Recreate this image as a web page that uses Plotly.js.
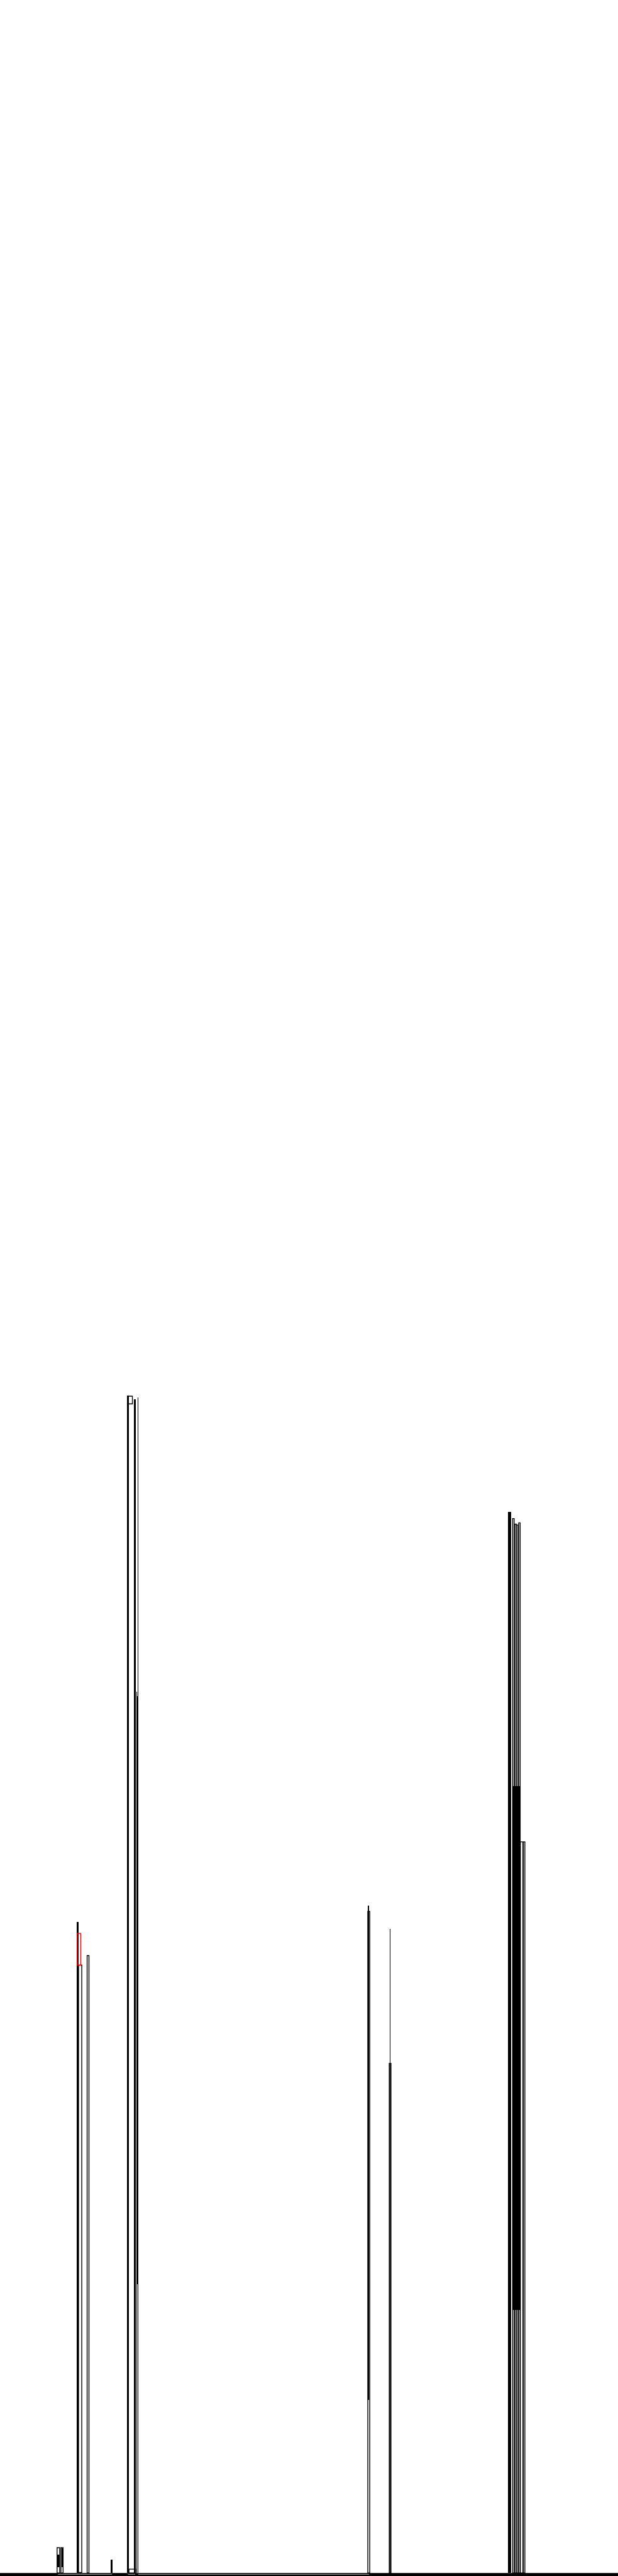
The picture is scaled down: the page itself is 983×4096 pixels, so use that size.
<!DOCTYPE html>
<html>
<head>
<meta charset="utf-8">
<script src="https://cdn.plot.ly/plotly-3.0.1.min.js"></script>
<style>html,body{margin:0;padding:0;background:#fff;}#chart{width:983px;height:4096px;}</style>
</head>
<body>
<div id="chart"></div>
<script>
// Outlined (white-filled) bars
var outlineX     = [13.6, 14.45, 18.675, 20.515, 30.3, 30.825, 85.925, 90.9, 119.625, 120.125, 120.525, 121.025, 121.55, 122.125];
var outlineWidth = [0.6, 0.5, 0.75, 0.43, 1.1, 1.55, 0.45, 0.4, 0.35, 0.35, 0.35, 0.35, 0.6, 0.35];
var outlineBase  = [0, 0, 0.1, 0, 272.3, 0, 0, 0, 0, 0, 0, 0, 0, 0];
var outlineTop   = [5.9, 5.9, 141.6, 143.8, 274.1, 0.9, 154.1, 118.7, 245.6, 244.3, 244.1, 244.6, 170.3, 170.3];

// Solid black bars
var solidX     = [13.625, 14.45, 18.075, 29.85, 29.825, 31.385, 32.15, 31.83, 32.05, 26.05, 85.85, 90.9, 120.35, 118.775];
var solidWidth = [0.45, 0.3, 0.45, 0.4, 0.55, 0.43, 0.2, 0.2, 0.5, 0.44, 0.3, 0.2, 1.9, 0.75];
var solidBase  = [1.3, 1.3, 0, 0, 0, 0, 0, 0, 67.3, 0, 40.3, 0, 61.3, 0];
var solidTop   = [4.3, 5.8, 151.7, 274.2, 205.3, 273.3, 273.8, 205.3, 204.3, 3.1, 155.5, 150.0, 183.3, 247.2];

// Highlighted (red) bar
var redX     = [18.4];
var redWidth = [0.8];
var redBase  = [141.6];
var redTop   = [149.0];

// Baseline
var baseLineX = [0, 144];
var baseLineY = [-0.35, -0.35];
var gapSegX = [13.5, 26.1, null, 29.8, 31.5, null, 32.2, 86.0];
var gapSegY = [-0.3, -0.3, null, -0.3, -0.3, null, -0.3, -0.3];

function heights(top, base){ return top.map(function(t,i){ return t - base[i]; }); }

var traces = [
  {type:'scatter', mode:'lines', x: baseLineX, y: baseLineY, line:{color:'#000', width:4.8}, hoverinfo:'skip'},
  {type:'bar', x: outlineX, y: heights(outlineTop, outlineBase), base: outlineBase, width: outlineWidth,
   marker:{color:'#ffffff', line:{color:'#000000', width:1.4}}},
  {type:'bar', x: solidX, y: heights(solidTop, solidBase), base: solidBase, width: solidWidth,
   marker:{color:'#000000', line:{color:'#000000', width:0}}},
  {type:'bar', x: redX, y: heights(redTop, redBase), base: redBase, width: redWidth,
   marker:{color:'rgba(0,0,0,0)', line:{color:'#ff0000', width:1.3}}},
  {type:'scatter', mode:'lines', x: gapSegX, y: gapSegY, line:{color:'#fff', width:0.7}, hoverinfo:'skip', connectgaps:false}
];

var layout = {
  width: 983, height: 4096,
  margin: {l:0, r:0, t:0, b:0, pad:0},
  paper_bgcolor:'#ffffff', plot_bgcolor:'#ffffff',
  barmode:'overlay', bargap:0,
  showlegend:false,
  hovermode:false,
  xaxis:{range:[0,144], visible:false, fixedrange:true},
  yaxis:{range:[-0.7, 599.3], visible:false, fixedrange:true}
};

Plotly.newPlot('chart', traces, layout, {staticPlot:true, displayModeBar:false});
</script>
</body>
</html>
